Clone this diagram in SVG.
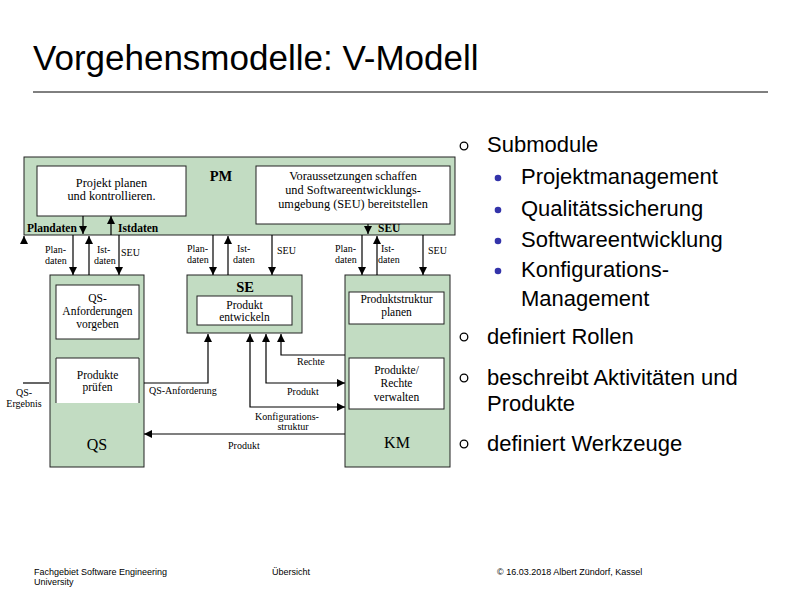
<svg xmlns="http://www.w3.org/2000/svg" width="794" height="595" viewBox="0 0 794 595">
<style>
.sans{font-family:"Liberation Sans",Arial,sans-serif;fill:#000}
.ser{font-family:"Liberation Serif","Times New Roman",serif;fill:#000}
.grp{fill:#c2dcc2;stroke:#222;stroke-width:1}
.act{fill:#fff;stroke:#222;stroke-width:1}
.lbl{font-size:10px}
.in{font-size:11.5px}
.bld{font-weight:bold;font-size:11.5px}
.mid{text-anchor:middle}
.con{fill:none;stroke:#000;stroke-width:1.2}
.bul{font-size:22px}
</style>
<defs>
<marker id="ah" viewBox="0 0 8 8" refX="8" refY="4" markerWidth="8" markerHeight="8" markerUnits="userSpaceOnUse" orient="auto-start-reverse">
<path d="M0,0 L8,4 L0,8 z" fill="#000"/>
</marker>
</defs>
<rect width="794" height="595" fill="#fff"/>
<text class="sans" x="33" y="70" font-size="35">Vorgehensmodelle: V-Modell</text>
<line x1="33" y1="92" x2="768" y2="92" stroke="#000" stroke-width="1"/>

<g id="PM">
<rect class="grp" x="24" y="157" width="431" height="78"/>
<text class="ser mid" x="221" y="181" font-size="14.5" font-weight="bold">PM</text>
<text class="ser bld" x="27" y="232">Plandaten</text>
<text class="ser bld" x="118" y="232">Istdaten</text>
<text class="ser bld" x="378" y="232">SEU</text>
</g>
<g id="projekt-planen">
<rect class="act" x="37" y="166" width="149" height="50"/>
<text class="ser mid" x="111.5" y="187" font-size="12.3">Projekt planen</text>
<text class="ser mid" x="111.5" y="200" font-size="12.3">und kontrollieren.</text>
</g>
<g id="seu-bereitstellen">
<rect class="act" x="256" y="166" width="194" height="58"/>
<text class="ser mid" x="353" y="180" font-size="12.3">Voraussetzungen schaffen</text>
<text class="ser mid" x="353" y="194" font-size="12.3">und Softwareentwicklungs-</text>
<text class="ser mid" x="353" y="208" font-size="12.3">umgebung (SEU) bereitstellen</text>
</g>

<g id="QS">
<rect class="grp" x="50" y="275" width="94" height="192"/>
<text class="ser mid" x="97" y="450" font-size="16">QS</text>
</g>
<g id="qs-anforderungen">
<rect class="act" x="56" y="285" width="83" height="54"/>
<text class="ser mid in" x="97.5" y="302">QS-</text>
<text class="ser mid in" x="97.5" y="315">Anforderungen</text>
<text class="ser mid in" x="97.5" y="328">vorgeben</text>
</g>
<g id="produkte-pruefen">
<rect x="56" y="358" width="83" height="45" fill="#fff"/>
<path d="M56,403 V358 H139 V403" fill="none" stroke="#222" stroke-width="1"/>
<text class="ser mid in" x="97.5" y="379">Produkte</text>
<text class="ser mid in" x="97.5" y="391">prüfen</text>
</g>

<g id="SE">
<rect class="grp" x="187" y="275" width="115" height="58"/>
<text class="ser mid" x="245" y="292" font-size="14.5" font-weight="bold">SE</text>
</g>
<g id="produkt-entwickeln">
<rect class="act" x="197" y="296" width="95" height="29"/>
<text class="ser mid in" x="244.5" y="309">Produkt</text>
<text class="ser mid in" x="244.5" y="321">entwickeln</text>
</g>

<g id="KM">
<rect class="grp" x="345" y="275" width="105" height="192"/>
<text class="ser mid" x="397" y="448" font-size="16">KM</text>
</g>
<g id="produktstruktur-planen">
<rect class="act" x="349" y="292" width="95" height="32"/>
<text class="ser mid in" x="396.5" y="303">Produktstruktur</text>
<text class="ser mid in" x="396.5" y="316">planen</text>
</g>
<g id="produkte-rechte-verwalten">
<rect class="act" x="349" y="358" width="95" height="51"/>
<text class="ser mid in" x="396.5" y="374">Produkte/</text>
<text class="ser mid in" x="396.5" y="387">Rechte</text>
<text class="ser mid in" x="396.5" y="401">verwalten</text>
</g>

<g id="connectors">
<path class="con" d="M83,216 V234" marker-end="url(#ah)"/>
<path class="con" d="M111,235 V216" marker-end="url(#ah)"/>
<path class="con" d="M368,224 V234" marker-end="url(#ah)"/>
<path class="con" d="M73,235 V275" marker-end="url(#ah)"/>
<path class="con" d="M89,275 V236" marker-end="url(#ah)"/>
<path class="con" d="M119,235 V275" marker-end="url(#ah)"/>
<path class="con" d="M213,235 V275" marker-end="url(#ah)"/>
<path class="con" d="M228,275 V236" marker-end="url(#ah)"/>
<path class="con" d="M272,235 V275" marker-end="url(#ah)"/>
<path class="con" d="M362,235 V275" marker-end="url(#ah)"/>
<path class="con" d="M377,275 V236" marker-end="url(#ah)"/>
<path class="con" d="M423,235 V275" marker-end="url(#ah)"/>
<path class="con" d="M24,244 V236" marker-end="url(#ah)"/>
<path class="con" d="M49,383 H23"/>
<path class="con" d="M144,383 H208 V334" marker-end="url(#ah)"/>
<path class="con" d="M345,355 H281 V334" marker-end="url(#ah)"/>
<path class="con" d="M266,334 V383 H345" marker-start="url(#ah)" marker-end="url(#ah)"/>
<path class="con" d="M250,334 V407 H345" marker-start="url(#ah)" marker-end="url(#ah)"/>
<path class="con" d="M345,434 H144" marker-end="url(#ah)"/>
<text class="ser lbl" x="45" y="253">Plan-</text>
<text class="ser lbl" x="45" y="264">daten</text>
<text class="ser lbl" x="97" y="253">Ist-</text>
<text class="ser lbl" x="94" y="264">daten</text>
<text class="ser lbl" x="121" y="256">SEU</text>
<text class="ser lbl" x="187" y="252">Plan-</text>
<text class="ser lbl" x="187" y="263">daten</text>
<text class="ser lbl" x="237" y="252">Ist-</text>
<text class="ser lbl" x="233" y="263">daten</text>
<text class="ser lbl" x="277" y="254">SEU</text>
<text class="ser lbl" x="335" y="252">Plan-</text>
<text class="ser lbl" x="335" y="263">daten</text>
<text class="ser lbl" x="381" y="252">Ist-</text>
<text class="ser lbl" x="378" y="263">daten</text>
<text class="ser lbl" x="428" y="254">SEU</text>
<text class="ser lbl mid" x="24" y="396">QS-</text>
<text class="ser lbl mid" x="24" y="407">Ergebnis</text>
<text class="ser lbl" x="149" y="394">QS-Anforderung</text>
<text class="ser lbl" x="297" y="365">Rechte</text>
<text class="ser lbl" x="287" y="395">Produkt</text>
<text class="ser lbl mid" x="287" y="420">Konfigurations-</text>
<text class="ser lbl mid" x="293" y="430">struktur</text>
<text class="ser lbl" x="228" y="449">Produkt</text>
</g>

<g id="bullets">
<circle cx="464" cy="146" r="3.8" fill="none" stroke="#000" stroke-width="1.3"/>
<text class="sans bul" x="487" y="152">Submodule</text>
<circle cx="498" cy="178" r="3.3" fill="#3333aa"/>
<text class="sans bul" x="521" y="184">Projektmanagement</text>
<circle cx="498" cy="210" r="3.3" fill="#3333aa"/>
<text class="sans bul" x="521" y="216">Qualitätssicherung</text>
<circle cx="498" cy="241" r="3.3" fill="#3333aa"/>
<text class="sans bul" x="521" y="247">Softwareentwicklung</text>
<circle cx="498" cy="271" r="3.3" fill="#3333aa"/>
<text class="sans bul" x="521" y="277">Konfigurations-</text>
<text class="sans bul" x="521" y="306">Management</text>
<circle cx="464" cy="337" r="3.8" fill="none" stroke="#000" stroke-width="1.3"/>
<text class="sans bul" x="487" y="344">definiert Rollen</text>
<circle cx="464" cy="378" r="3.8" fill="none" stroke="#000" stroke-width="1.3"/>
<text class="sans bul" x="487" y="385">beschreibt Aktivitäten und</text>
<text class="sans bul" x="487" y="411">Produkte</text>
<circle cx="464" cy="444" r="3.8" fill="none" stroke="#000" stroke-width="1.3"/>
<text class="sans bul" x="487" y="451">definiert Werkzeuge</text>
</g>

<g id="footer">
<text class="sans" x="34" y="575" font-size="9">Fachgebiet Software Engineering</text>
<text class="sans" x="34" y="585" font-size="9">University</text>
<text class="sans" x="272" y="575" font-size="9">Übersicht</text>
<text class="sans" x="497" y="575" font-size="9">© 16.03.2018 Albert Zündorf, Kassel</text>
</g>
</svg>
